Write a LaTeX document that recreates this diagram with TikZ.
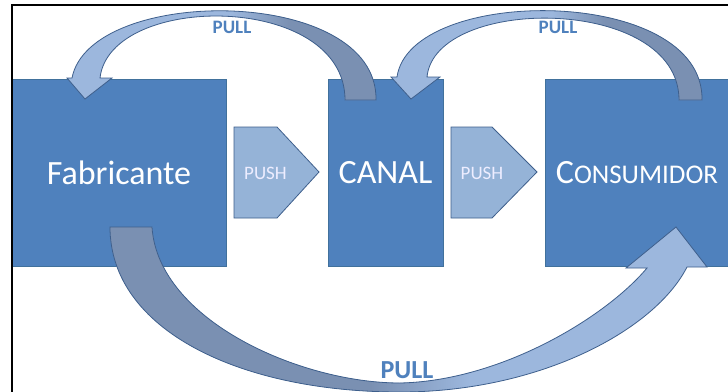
\documentclass[tikz,border=0pt]{standalone}
\usepackage{fontspec}
\setmainfont{Carlito}
\definecolor{boxblue}{HTML}{4F81BD}
\definecolor{boxedge}{HTML}{41719C}
\definecolor{pushfill}{HTML}{95B3D7}
\definecolor{arrlight}{HTML}{9CB7DD}
\definecolor{arrdark}{HTML}{7A90B2}
\definecolor{arredge}{HTML}{3E5F8C}
\definecolor{pulltext}{HTML}{4F81BD}
\begin{document}
\begin{tikzpicture}[x=1pt,y=-1pt,
  mainbox/.style={rectangle,fill=boxblue,draw=boxedge,line width=0.8pt,text=white,inner sep=0pt,
    font=\fontsize{34}{34}\selectfont},
  pushshape/.style={fill=pushfill,draw=arredge,line width=0.8pt},
  pushlabel/.style={text=white!93!blue,inner sep=0pt,font=\fontsize{19}{19}\selectfont},
  pull-label/.style={text=pulltext,inner sep=0pt,font=\bfseries\fontsize{19}{19}\selectfont},
  bandedge/.style={draw=arredge,line width=0.8pt}
]
\useasboundingbox (0,0) rectangle (728,391);
\fill[white] (0,0) rectangle (728,391);

% boxes
\node[mainbox,minimum width=214pt,minimum height=187pt] (fab) at (119,172.5) {Fabricante};
\node[mainbox,minimum width=115pt,minimum height=187pt] (canal) at (385.5,172.5) {CANAL};
\node[mainbox,minimum width=184pt,minimum height=187pt] (cons) at (637,172.5)
  {{\fontsize{34}{34}\selectfont C}{\fontsize{27}{27}\selectfont ONSUMIDOR}};

% push arrows
\draw[pushshape] (234,127) -- (277,127) -- (319,172) -- (277,218) -- (234,218) -- cycle;
\node[pushlabel] (push1) at (265.5,173.5) {PUSH};
\draw[pushshape] (451,127) -- (492,127) -- (537,172) -- (492,218) -- (451,218) -- cycle;
\node[pushlabel] (push2) at (482,173.5) {PUSH};

% curved arrow A: CANAL -> Fabricante
\def\arrowA{(376,100) .. controls (378,-15) and (90,-15) .. (72,78) -- (67,78) -- (85,99) -- (112,78) -- (100,78)
  .. controls (110,-8) and (345,-8) .. (345,100) -- cycle}
\fill[arrlight] \arrowA;
\begin{scope}
  \clip \arrowA;
  \shade[left color=arrlight,right color=arrdark] (230,0) rectangle (290,120);
  \fill[arrdark] (290,0) rectangle (400,120);
\end{scope}
\draw[bandedge] \arrowA;

% curved arrow B: CONSUMIDOR -> CANAL
\def\arrowB{(702,100) .. controls (704,-15) and (410,-15) .. (397,77) -- (391,77) -- (411,99) -- (440,77) -- (427,77)
  .. controls (435,-5) and (679,-5) .. (679,100) -- cycle}
\fill[arrlight] \arrowB;
\begin{scope}
  \clip \arrowB;
  \shade[left color=arrlight,right color=arrdark] (552,0) rectangle (605,120);
  \fill[arrdark] (605,0) rectangle (720,120);
\end{scope}
\draw[bandedge] \arrowB;

% curved arrow C: Fabricante -> CONSUMIDOR
\def\arrowC{(110,227) .. controls (110,330) and (240,392) .. (400,392) .. controls (540,392) and (655,330) .. (687,267)
  -- (707,267) -- (676,227) -- (626,268) -- (647,268) .. controls (605,318) and (500,381) .. (400,383)
  .. controls (300,383) and (158,320) .. (152,227) -- cycle}
\fill[arrlight] \arrowC;
\begin{scope}
  \clip \arrowC;
  \fill[arrdark] (100,220) rectangle (370,400);
  \shade[left color=arrdark,right color=arrlight] (370,220) rectangle (470,400);
\end{scope}
\draw[bandedge] \arrowC;

% pull labels
\node[pull-label] (pullA) at (232,27) {PULL};
\node[pull-label] (pullB) at (558,27) {PULL};
\node[pull-label,font=\bfseries\fontsize{26}{26}\selectfont] (pullC) at (407,370) {PULL};

% frame
\draw[line width=2pt,line cap=rect] (12,400) -- (12,5) -- (740,5);
\end{tikzpicture}
\end{document}
